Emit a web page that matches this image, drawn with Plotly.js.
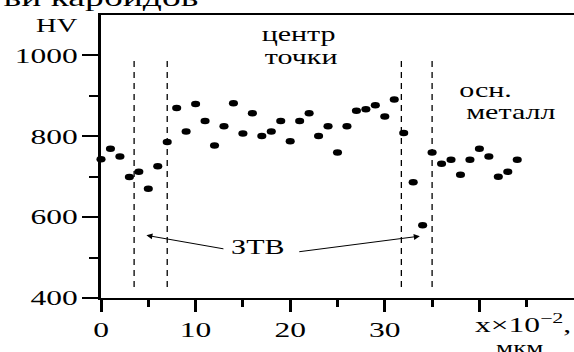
<!DOCTYPE html>
<html>
<head>
<meta charset="utf-8">
<script src="https://cdn.plot.ly/plotly-3.0.1.min.js"></script>
<style>html,body{margin:0;padding:0;background:#fff;}#chart{width:574px;height:352px;}</style>
</head>
<body>
<div id="chart"></div>
<script>
// Positions along the sample (x×10^-2, мкм)
const positions = [0,1,2,3,4,5,6,7,8,9,10,11,12,13,14,15,16,17,18,19,20,21,22,23,24,25,26,27,28,29,30,31,32,33,34,35,36,37,38,39,40,41,42,43,44];
// Microhardness HV
const hardness = [743,769,750,699,712,670,726,786,870,812,880,838,777,825,882,807,857,801,812,838,788,838,857,801,825,760,825,863,867,877,849,891,808,686,580,760,732,742,705,742,769,750,700,712,742];
// Zone boundaries (dashed lines)
const boundaries = [3.5, 7.0, 31.75, 35.0];
const boundaryY = [427, 995];
const xTicks = [0,10,20,30,40];
const xTickText = ['0','10','20','30',''];
const yTicks = [400,600,800,1000];
const yTickText = ['400','600','800','1000'];

const FONT = 'Liberation Serif';
const SX = 1.5; // horizontal stretch of the original typesetting

const traces = [];
boundaries.forEach(b => {
  traces.push({x:[b,b], y:boundaryY, mode:'lines', type:'scatter',
    line:{color:'#000', width:1.3, dash:'6px,5px'}, hoverinfo:'skip', showlegend:false});
});
traces.push({x:positions, y:hardness, mode:'markers', type:'scatter',
  marker:{color:'#000', size:6.5, symbol:'circle'}, showlegend:false, cliponaxis:false});

const layout = {
  width:574, height:352,
  margin:{l:101, r:0, t:15, b:54},
  paper_bgcolor:'#fff', plot_bgcolor:'#fff',
  font:{family:FONT, color:'#000', size:21},
  showlegend:false,
  xaxis:{range:[0,50], showgrid:false, zeroline:false,
    showline:true, linecolor:'#000', linewidth:2, mirror:true,
    tickvals:xTicks, ticktext:xTickText, ticks:'outside', ticklen:12, tickwidth:3, tickcolor:'#000',
    minor:{tickvals:[5,15,25,35,45], ticks:'outside', ticklen:7, tickwidth:3, tickcolor:'#000'},
    tickfont:{family:FONT, size:21, color:'#000'}},
  yaxis:{range:[400,1100], showgrid:false, zeroline:false,
    showline:true, linecolor:'#000', linewidth:3,
    tickvals:yTicks, ticktext:yTickText, ticks:'outside', ticklen:16, tickwidth:2, tickcolor:'#000',
    minor:{tickvals:[500,700,900], ticks:'outside', ticklen:9, tickwidth:2, tickcolor:'#000'},
    tickfont:{family:FONT, size:21, color:'#000'}},
  annotations:[
    {xref:'paper', yref:'paper', x:-0.0, y:1.062, xanchor:'center', yanchor:'middle',
     text:'ви карбидов', showarrow:false, font:{family:FONT, size:25, color:'#000'}},
    {xref:'paper', yref:'y', x:-0.094, y:1074, xanchor:'center', yanchor:'middle',
     text:'HV', showarrow:false, font:{family:FONT, size:19, color:'#000'}},
    {xref:'x', yref:'y', x:20.9, y:1051, xanchor:'center', yanchor:'middle',
     text:'центр', showarrow:false, font:{family:FONT, size:20, color:'#000'}},
    {xref:'x', yref:'y', x:21.2, y:997, xanchor:'center', yanchor:'middle',
     text:'точки', showarrow:false, font:{family:FONT, size:20, color:'#000'}},
    {xref:'x', yref:'y', x:40.6, y:915, xanchor:'center', yanchor:'middle',
     text:'осн.', showarrow:false, font:{family:FONT, size:20, color:'#000'}},
    {xref:'x', yref:'y', x:43.3, y:860, xanchor:'center', yanchor:'middle',
     text:'металл', showarrow:false, font:{family:FONT, size:20, color:'#000'}},
    {xref:'x', yref:'y', x:16.6, y:526, xanchor:'center', yanchor:'middle',
     text:'ЗТВ', showarrow:false, font:{family:FONT, size:20, color:'#000'}},
    {xref:'x', yref:'y', axref:'x', ayref:'y', x:4.8, y:555, ax:13.1, ay:521,
     text:'', showarrow:true, arrowhead:2, arrowsize:1.2, arrowwidth:1, arrowcolor:'#000'},
    {xref:'x', yref:'y', axref:'x', ayref:'y', x:33.7, y:553, ax:20.8, ay:514,
     text:'', showarrow:true, arrowhead:2, arrowsize:1.2, arrowwidth:1, arrowcolor:'#000'},
    {xref:'x', yref:'paper', x:44.6, y:-0.09, xanchor:'center', yanchor:'middle',
     text:'x×10<sup>−2</sup>,', showarrow:false, font:{family:FONT, size:21, color:'#000'}},
    {xref:'x', yref:'paper', x:44.3, y:-0.175, xanchor:'center', yanchor:'middle',
     text:'мкм', showarrow:false, font:{family:FONT, size:18, color:'#000'}}
  ]
};

function stretchText(gd) {
  gd.querySelectorAll('svg text').forEach(t => {
    if (!t.textContent) return;
    const bb = t.getBBox();
    const anchor = t.getAttribute('text-anchor') || 'start';
    let cx = bb.x + bb.width / 2;
    if (anchor === 'end') cx = bb.x + bb.width;
    else if (anchor === 'start' && t.closest('.xtick,.ytick')) cx = bb.x;
    const prev = t.getAttribute('transform') || '';
    t.setAttribute('transform', prev + ' translate(' + cx + ',0) scale(' + SX + ',1) translate(' + (-cx) + ',0)');
  });
  gd.querySelectorAll('.scatterlayer path.point').forEach(p => {
    const prev = p.getAttribute('transform') || '';
    p.setAttribute('transform', prev + ' scale(1.4,1)');
  });
}

Plotly.newPlot('chart', traces, layout, {displayModeBar:false, staticPlot:true})
  .then(gd => stretchText(gd));
</script>
</body>
</html>
